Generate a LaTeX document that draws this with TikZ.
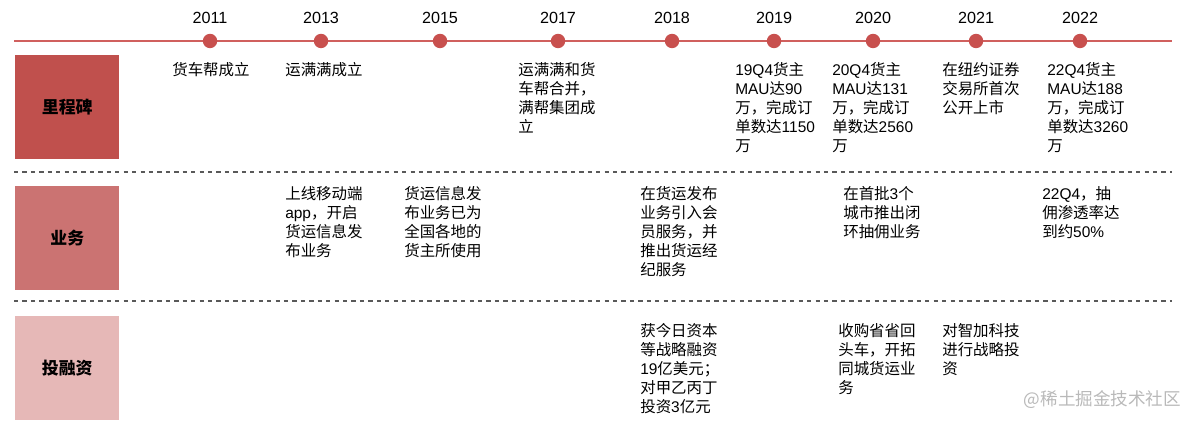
\documentclass[tikz,border=0pt]{standalone}
\usepackage{fontspec}
\setmainfont{Noto Sans CJK SC}
\newfontfamily\latfont{Liberation Sans}
\newcommand{\lat}[1]{{\latfont #1}}
\definecolor{lineRed}{HTML}{D0605E}
\definecolor{dotRed}{HTML}{C8504E}
\definecolor{boxA}{HTML}{C0504D}
\definecolor{boxB}{HTML}{CB7372}
\definecolor{boxC}{HTML}{E6B8B7}
\tikzset{
  dot/.style={circle, fill=dotRed, inner sep=0pt, minimum size=0.36cm},
  yearlbl/.style={font=\fontsize{11.5}{13}\selectfont\latfont},
  evtext/.style={anchor=north west, inner sep=0pt, align=left,
    font=\fontsize{11}{13.6}\selectfont},
  rowbox/.style={anchor=north west, minimum width=2.6cm, minimum height=2.58cm,
    inner sep=0pt, font=\fontsize{12}{14}\selectfont\bfseries},
  sepline/.style={dashed, gray!70!black, thick}
}
\begin{document}
\begin{tikzpicture}[x=0.025cm,y=-0.025cm]
    \useasboundingbox (0,0) rectangle (1200,426);

    \def\lineY{41}
    \def\rowA{62}
    \def\rowB{186}
    \def\rowC{323}

    % time axis
    \coordinate (tlL) at (14,\lineY);
    \coordinate (tlR) at (1172,\lineY);
    \draw[lineRed, line width=0.9pt] (tlL) -- (tlR);
    \foreach \yr/\xx in {2011/210,2013/321,2015/440,2017/558,2018/672,
                         2019/774,2020/873,2021/976,2022/1080}{
        \node[dot] (d\yr) at (\xx,\lineY) {};
        \node[yearlbl] (y\yr) at (\xx,18) {\yr};
    }

    % row separators
    \coordinate (sepAL) at (14,172);
    \coordinate (sepAR) at (1172,172);
    \coordinate (sepBL) at (14,301);
    \coordinate (sepBR) at (1172,301);
    \draw[sepline] (sepAL) -- (sepAR);
    \draw[sepline] (sepBL) -- (sepBR);

    % row headers
    \node[rowbox, fill=boxA] (hdrA) at (15,55) {里程碑};
    \node[rowbox, fill=boxB] (hdrB) at (15,186) {业务};
    \node[rowbox, fill=boxC] (hdrC) at (15,316) {投融资};

    % milestones
    \node[evtext] (mA2011) at (172,\rowA) {货车帮成立};
    \node[evtext] (mA2013) at (285,\rowA) {运满满成立};
    \node[evtext] (mA2017) at (518,\rowA) {运满满和货\\车帮合并，\\满帮集团成\\立};
    \node[evtext] (mA2019) at (735,\rowA) {\lat{19Q4}货主\\\lat{MAU}达\lat{90}\\万，完成订\\单数达\lat{1150}\\万};
    \node[evtext] (mA2020) at (832,\rowA) {\lat{20Q4}货主\\\lat{MAU}达\lat{131}\\万，完成订\\单数达\lat{2560}\\万};
    \node[evtext] (mA2021) at (942,\rowA) {在纽约证券\\交易所首次\\公开上市};
    \node[evtext] (mA2022) at (1047,\rowA) {\lat{22Q4}货主\\\lat{MAU}达\lat{188}\\万，完成订\\单数达\lat{3260}\\万};

    % business
    \node[evtext] (mB2013) at (285,\rowB) {上线移动端\\\lat{app}，开启\\货运信息发\\布业务};
    \node[evtext] (mB2015) at (404,\rowB) {货运信息发\\布业务已为\\全国各地的\\货主所使用};
    \node[evtext] (mB2018) at (640,\rowB) {在货运发布\\业务引入会\\员服务，并\\推出货运经\\纪服务};
    \node[evtext] (mB2020) at (843,\rowB) {在首批\lat{3}个\\城市推出闭\\环抽佣业务};
    \node[evtext] (mB2022) at (1042,\rowB) {\lat{22Q4}，抽\\佣渗透率达\\到约\lat{50\%}};

    % investment
    \node[evtext] (mC2018) at (640,\rowC) {获今日资本\\等战略融资\\\lat{19}亿美元；\\对甲乙丙丁\\投资\lat{3}亿元};
    \node[evtext] (mC2020) at (838,\rowC) {收购省省回\\头车，开拓\\同城货运业\\务};
    \node[evtext] (mC2021) at (942,\rowC) {对智加科技\\进行战略投\\资};

    \node[gray!55, font=\fontsize{12.5}{14}\selectfont, anchor=east] (wmark) at (1186,400) {@稀土掘金技术社区};
\end{tikzpicture}
\end{document}
